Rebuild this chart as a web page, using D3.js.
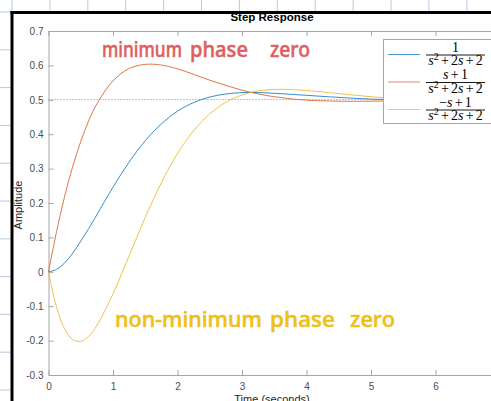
<!DOCTYPE html>
<html>
<head>
<meta charset="utf-8">
<script src="https://cdn.jsdelivr.net/npm/d3@7"></script>
<style>
  html, body { margin: 0; padding: 0; background: #fff; }
  svg { display: block; }
</style>
</head>
<body>
<svg width="491" height="401"></svg>
<script>
// Step response samples
const time = [0, 0.125, 0.25, 0.375, 0.5, 0.625, 0.75, 1, 1.25, 1.5, 1.75, 2, 2.25, 2.5, 2.75,
              3, 3.25, 3.5, 3.75, 4, 4.5, 5, 5.5, 6, 6.5, 7];
const plain = [0, 0.007, 0.026, 0.054, 0.089, 0.126, 0.166, 0.246, 0.319, 0.381, 0.430, 0.467, 0.492, 0.508, 0.517,
               0.521, 0.521, 0.519, 0.516, 0.513, 0.507, 0.502, 0.500, 0.499, 0.499, 0.499];
const minPhase = [0, 0.117, 0.219, 0.306, 0.379, 0.440, 0.488, 0.555, 0.591, 0.603, 0.601, 0.590, 0.574, 0.557, 0.542,
                  0.528, 0.517, 0.509, 0.503, 0.499, 0.496, 0.496, 0.497, 0.499, 0.499, 0.500];
const nonMinPhase = [0, -0.103, -0.166, -0.197, -0.202, -0.187, -0.156, -0.064, 0.047, 0.158, 0.259, 0.344, 0.410, 0.459, 0.493,
                     0.514, 0.526, 0.530, 0.530, 0.527, 0.518, 0.509, 0.503, 0.500, 0.499, 0.499];
const steadyState = 0.5;

const xTicks = [0, 1, 2, 3, 4, 5, 6];
const yTicks = [-0.3, -0.2, -0.1, 0, 0.1, 0.2, 0.3, 0.4, 0.5, 0.6, 0.7];

const seriesNames = ["G1", "G2", "G3"];
const numerators = ["1", "s+1", "\u2212s+1"];

const svg = d3.select("svg");
const W = +svg.attr("width"), H = +svg.attr("height");

// graph paper behind the figure
const paper = svg.append("g");
for (let gx = 12; gx < W; gx += 37.9) {
  paper.append("line").attr("x1", gx).attr("x2", gx).attr("y1", 0).attr("y2", H)
    .attr("stroke", "#b9c9e3").attr("stroke-width", 1);
}
for (let gy = 12; gy < H; gy += 37.8) {
  paper.append("line").attr("y1", gy).attr("y2", gy).attr("x1", 0).attr("x2", W)
    .attr("stroke", "#b9c9e3").attr("stroke-width", 1);
}
svg.append("rect").attr("x", 12).attr("y", 12).attr("width", W).attr("height", H).attr("fill", "#fff");
svg.append("line").attr("x1", 10.5).attr("x2", W).attr("y1", 12.5).attr("y2", 12.5)
  .attr("stroke", "#000").attr("stroke-width", 3);
svg.append("line").attr("x1", 12).attr("x2", 12).attr("y1", 11).attr("y2", H)
  .attr("stroke", "#000").attr("stroke-width", 3);

// scales
const x = d3.scaleLinear().domain([0, 7]).range([48.5, 500]);
const y = d3.scaleLinear().domain([-0.3, 0.7]).range([375, 31]);

const colors = ["#0072BD", "#D95319", "#EDB120"];
const series = [plain, minPhase, nonMinPhase];

// steady state dotted line
svg.append("line")
  .attr("x1", x(0)).attr("x2", x(7))
  .attr("y1", Math.round(y(steadyState)) - 0.5).attr("y2", Math.round(y(steadyState)) - 0.5)
  .attr("stroke", "#8c8c8c").attr("stroke-width", 1).attr("stroke-dasharray", "1,2");

// axes (MATLAB style: ticks inward, box)
const axisColor = "#a6a6a6";
const labelColor = "#4d4d4d";

const xAxis = svg.append("g").attr("transform", `translate(0,${y(-0.3)})`)
  .call(d3.axisBottom(x).tickValues(xTicks).tickSizeInner(-5).tickSizeOuter(0).tickPadding(8)
    .tickFormat(d3.format("d")));
const xTop = svg.append("g").attr("transform", `translate(0,${y(0.7)})`)
  .call(d3.axisTop(x).tickValues(xTicks).tickSizeInner(-5).tickSizeOuter(0).tickFormat(""));
const yAxis = svg.append("g").attr("transform", `translate(${x(0)},0)`)
  .call(d3.axisLeft(y).tickValues(yTicks).tickSizeInner(-5).tickSizeOuter(0).tickPadding(5)
    .tickFormat(d => d === 0 ? "0" : d3.format(".1f")(d).replace("\u2212", "-")));

for (const ax of [xAxis, xTop, yAxis]) {
  ax.select(".domain").attr("stroke", axisColor);
  ax.selectAll(".tick line").attr("stroke", axisColor);
  ax.selectAll("text").attr("fill", labelColor)
    .style("font-family", "'Liberation Sans', Arial, sans-serif").style("font-size", "10px");
}

// curves
const line = d3.line().x((d, i) => x(time[i])).y(d => y(d)).curve(d3.curveCatmullRom);
series.forEach((vals, i) => {
  svg.append("path").datum(vals)
    .attr("d", line)
    .attr("fill", "none")
    .attr("stroke", colors[i])
    .attr("stroke-width", 1)
    .attr("stroke-opacity", 0.8);
});

// title and axis labels
svg.append("text").attr("x", 272).attr("y", 20.5).attr("text-anchor", "middle")
  .style("font-family", "'Liberation Sans', Arial, sans-serif").style("font-size", "11.5px")
  .style("font-weight", "bold").attr("fill", "#000").text("Step Response");

svg.append("text").attr("transform", "translate(21.5,205) rotate(-90)").attr("text-anchor", "middle")
  .style("font-family", "'Liberation Sans', Arial, sans-serif").style("font-size", "11px")
  .attr("fill", "#262626").text("Amplitude");

svg.append("text").attr("x", 272).attr("y", 403).attr("text-anchor", "middle")
  .style("font-family", "'Liberation Sans', Arial, sans-serif").style("font-size", "11px")
  .attr("fill", "#262626").text("Time (seconds)");

// legend
const legend = svg.append("g");
legend.append("rect").attr("x", 383.5).attr("y", 39.5).attr("width", 120).attr("height", 84)
  .attr("fill", "#fff").attr("stroke", "#a6a6a6").attr("stroke-width", 1);

const serif = "'Liberation Serif', 'Times New Roman', serif";
function mathText(sel, str) {
  // italic s, upright digits, a little room around binary operators
  const toks = str.match(/s|\u00b2|\+|\u2212|[0-9]+/g);
  toks.forEach((t, k) => {
    const ts = sel.append("tspan");
    if (t === "s") ts.style("font-style", "italic");
    if (t === "\u00b2") { ts.text("2").attr("dy", -5).style("font-size", "10px"); return; }
    if (toks[k - 1] === "\u00b2") ts.attr("dy", 5);
    if (t === "+" ) ts.attr("dx", 2.2);
    if (toks[k - 1] === "+") ts.attr("dx", 2.2);
    ts.text(t);
  });
}

const rowY = [54.5, 82, 109.5];
seriesNames.forEach((name, i) => {
  const cy = rowY[i];
  legend.append("line").attr("x1", 388).attr("x2", 420).attr("y1", cy).attr("y2", cy)
    .attr("stroke", colors[i]).attr("stroke-width", 1).attr("stroke-opacity", 0.7);
  legend.append("line").attr("x1", 426).attr("x2", 485).attr("y1", cy + 0.5).attr("y2", cy + 0.5)
    .attr("stroke", "#000").attr("stroke-width", 0.9);
  const num = legend.append("text").attr("x", 455.5).attr("y", cy - 3).attr("text-anchor", "middle")
    .style("font-family", serif).style("font-size", "14px").attr("fill", "#000");
  mathText(num, numerators[i]);
  const den = legend.append("text").attr("x", 455.5).attr("y", cy + 10.5).attr("text-anchor", "middle")
    .style("font-family", serif).style("font-size", "14px").attr("fill", "#000");
  mathText(den, "s\u00b2+2s+2");
});

// handwritten notes, each word squeezed to the span it covers
const notes = [
  { words: ["minimum", "phase", "zero"], spans: [[102, 182], [190, 248], [270, 310]], base: 57, color: "#df5f5f" },
  { words: ["non-minimum", "phase", "zero"], spans: [[115, 262], [270, 335], [350, 395]], base: 327, color: "#f0c012" }
];
for (const n of notes) {
  n.words.forEach((w, i) => {
    const [a, b] = n.spans[i];
    const t = svg.append("text").attr("x", 0).attr("y", 0)
      .style("font-family", "'Noto Sans', 'DejaVu Sans', sans-serif").style("font-size", "21px")
      .style("font-weight", "500")
      .attr("fill", n.color).attr("stroke", n.color).attr("stroke-width", 0.5)
      .attr("stroke-linejoin", "round")
      .text(w);
    const bb = t.node().getBBox();
    const sx = (b - a) / bb.width;
    t.attr("transform", `translate(${a - bb.x * sx},${n.base}) scale(${sx},1)`);
  });
}
</script>
</body>
</html>
